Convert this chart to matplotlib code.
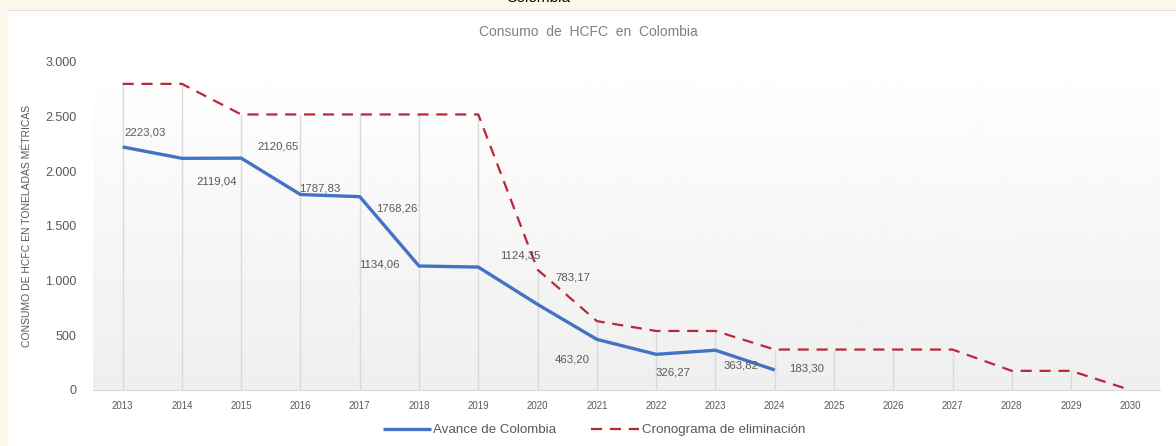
"""Consumo de HCFC en Colombia: avance vs cronograma de eliminación."""

import matplotlib

matplotlib.use("Agg")
import matplotlib.pyplot as plt
import numpy as np
from matplotlib.ticker import FuncFormatter

plt.rcParams["font.family"] = ["Liberation Sans", "DejaVu Sans"]

# Data
years = list(range(2013, 2031))
avance_years = list(range(2013, 2025))
avance = [2223.03, 2119.04, 2120.65, 1787.83, 1768.26, 1134.06,
          1124.35, 783.17, 463.20, 326.27, 363.82, 183.30]
cronograma = [2800, 2800, 2520, 2520, 2520, 2520, 2520, 1100, 630,
              540, 540, 370, 370, 370, 370, 175, 175, 0]
y_ticks = [0, 500, 1000, 1500, 2000, 2500, 3000]

# label offsets (pixels) so the numbers sit roughly where the original put them
label_offsets = [(22, 14), (35, -23), (37, 12), (19, 6), (37, -12), (-40, 2),
                 (42, 12), (35, 27), (-25, -20), (17, -18), (26, -15), (32, 1)]

BLUE = "#4472C4"
RED = "#B8283A"
GREY_TEXT = "#595959"


def fmt_thousands(v, _pos):
    return f"{int(v):,}".replace(",", ".")


fig = plt.figure(figsize=(11.76, 4.46), dpi=100, facecolor="#FDF9EA")

# white panel behind the chart
panel = fig.add_axes([8 / 1176, 0, 1 - 8 / 1176, 1 - 10 / 446])
panel.set_facecolor("white")
panel.set_xticks([])
panel.set_yticks([])
for s in panel.spines.values():
    s.set_visible(False)
panel.spines["top"].set_visible(True)
panel.spines["top"].set_color("#dcdcdc")

# caption cut by the top edge, as in the source screenshot
fig.text(538 / 1176, 1 + 2 / 446, "Colombia", ha="center", va="center",
         style="italic", fontsize=11, color="black")

ax = fig.add_axes([93 / 1176, 56 / 446, (1160 - 93) / 1176, (390 - 62) / 446])
ax.set_xlim(2012.5, 2030.5)
ax.set_ylim(0, 3000)

# light gradient background (white at top, grey at bottom)
grad = np.linspace(0.935, 1.0, 256).reshape(-1, 1)
ax.imshow(grad, extent=[2012.5, 2030.5, 0, 3000], origin="lower", aspect="auto",
          cmap="gray", vmin=0, vmax=1, zorder=0)

# drop lines
tops = [max(c, a) for c, a in zip(cronograma, avance + [0] * (len(years) - len(avance)))]
ax.vlines(years, 0, tops, color="#dadada", linewidth=1, zorder=1)

ax.plot(avance_years, avance, color=BLUE, linewidth=2.4, zorder=3,
        label="Avance de Colombia", solid_capstyle="butt")
ax.plot(years, cronograma, color=RED, linewidth=1.6, dashes=(5, 3.5), zorder=3,
        label="Cronograma de eliminación")

for x, v, off in zip(avance_years, avance, label_offsets):
    ax.annotate(f"{v:.2f}".replace(".", ","), (x, v), xytext=off,
                textcoords="offset pixels", ha="center", va="center",
                fontsize=8.2, color=GREY_TEXT, zorder=4)

ax.set_xticks(years)
ax.set_yticks(y_ticks)
ax.yaxis.set_major_formatter(FuncFormatter(fmt_thousands))
ax.tick_params(axis="both", length=0, colors=GREY_TEXT)
ax.tick_params(axis="x", labelsize=7, pad=8)
ax.tick_params(axis="y", labelsize=9, pad=12)
for s in ["top", "right", "left"]:
    ax.spines[s].set_visible(False)
ax.spines["bottom"].set_color("#d9d9d9")
ax.set_ylabel("CONSUMO DE HCFC EN TONELADAS MÉTRICAS", fontsize=7.5,
              color=GREY_TEXT, labelpad=9)

fig.text(0.5, 1 - 32 / 446, "Consumo  de  HCFC  en  Colombia", ha="center",
         va="center", fontsize=10, color="#808080")

fig.legend(loc="center", bbox_to_anchor=(594 / 1176, 16 / 446), ncol=2,
           frameon=False, fontsize=9.6, labelcolor=GREY_TEXT, handlelength=3.6,
           handletextpad=0.2, columnspacing=2.6)

fig.savefig("out.png", dpi=100, facecolor=fig.get_facecolor())
